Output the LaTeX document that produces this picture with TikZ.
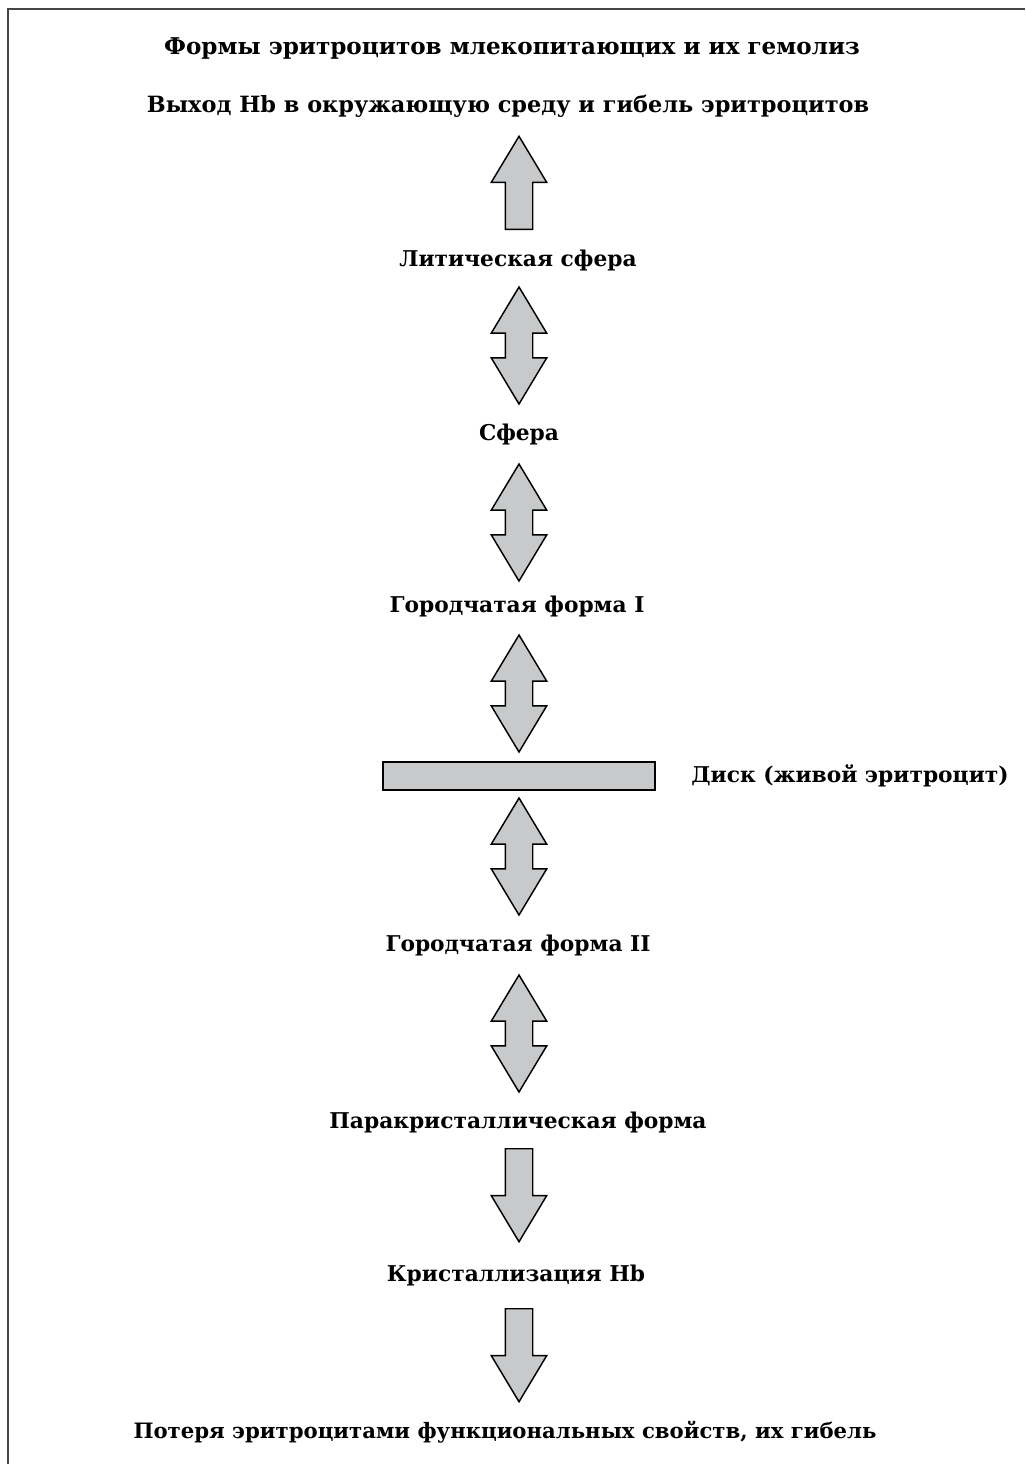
\documentclass[tikz,border=0pt]{standalone}
\usepackage{fontspec}
\setmainfont{DejaVu Serif}
\usetikzlibrary{shapes.arrows,positioning}
\definecolor{cellgray}{RGB}{200,201,203}
\definecolor{framegray}{RGB}{70,70,70}

\begin{document}
\begin{tikzpicture}[%
        x=0.75pt, y=-0.75pt,
        every node/.style={inner sep=0pt, align=center},
        ttl/.style={font=\bfseries\fontsize{17.3}{20}\selectfont},
        lbl/.style={font=\bfseries\fontsize{16.3}{19}\selectfont},
        blk/.style={draw=black, fill=cellgray, line width=1.1pt},
        uparr/.style={blk, single arrow, rotate=90, inner xsep=0pt, inner ysep=9.75pt,
          minimum width=40.5pt, single arrow head extend=10.5pt,
          single arrow tip angle=62, minimum height=69.75pt, anchor=tail},
        downarr/.style={uparr, rotate=180},
        twoarr/.style={blk, double arrow, rotate=90, inner xsep=0pt, inner ysep=9.75pt,
          minimum width=40.5pt, double arrow head extend=10.5pt,
          double arrow tip angle=62, minimum height=87.75pt}
      ]
      \useasboundingbox (0,0) rectangle (1025,1464);
      % frame, cut at right and bottom
      \draw [framegray, line width=1.5pt] (1025,9) -- (8,9) -- (8,1464);

      % labels
      \node [ttl] (title) at (512,48) {Формы эритроцитов млекопитающих и их гемолиз};
      \node [lbl, font=\bfseries\fontsize{16.8}{19}\selectfont] (exit) at (508,106)
        {Выход Hb в окружающую среду и гибель эритроцитов};
      \node [lbl] (lytic) at (518,260) {Литическая сфера};
      \node [lbl] (sphere) at (519,434) {Сфера};
      \node [lbl] (crenI) at (517,606) {Городчатая форма I};
      \node [blk, minimum width=204pt, minimum height=21pt] (disk) at (519,776) {};
      \node [lbl] (disklbl) at (850,776) {Диск (живой эритроцит)};
      \node [lbl] (crenII) at (518,945) {Городчатая форма II};
      \node [lbl] (paracr) at (518,1122) {Паракристаллическая форма};
      \node [lbl] (cryst) at (516,1275) {Кристаллизация Hb};
      \node [lbl, font=\bfseries\fontsize{15.9}{19}\selectfont] (loss) at (505,1432)
        {Потеря эритроцитами функциональных свойств, их гибель};

      % block arrows
      \node [uparr] (a1) at (519,230) {};
      \node [twoarr] (a2) at (519,345.5) {};
      \node [twoarr] (a3) at (519,522.5) {};
      \node [twoarr] (a4) at (519,693.5) {};
      \node [twoarr] (a5) at (519,856.5) {};
      \node [twoarr] (a6) at (519,1033.5) {};
      \node [downarr] (a7) at (519,1148) {};
      \node [downarr] (a8) at (519,1308) {};
    \end{tikzpicture}
\end{document}
